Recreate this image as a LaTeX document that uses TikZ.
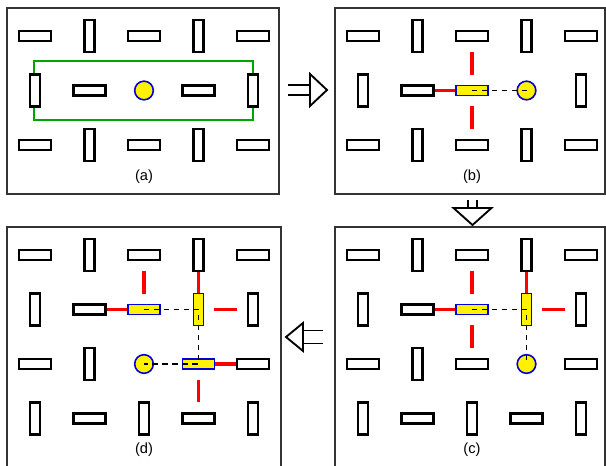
\documentclass[tikz,border=0pt]{standalone}
\usepackage{fontspec}
\setmainfont{Liberation Sans}

\begin{document}
\begin{tikzpicture}[x=0.75pt,y=-0.75pt]
    \tikzset{
        bar/.style={draw, line width=1.6pt, fill=white, inner sep=0pt},
        hbar/.style={bar, minimum width=24pt, minimum height=7.5pt},
        vbar/.style={bar, minimum width=7.5pt, minimum height=24pt},
        ybar/.style={hbar, draw=blue!85!black, fill=yellow, line width=1.2pt},
        yvbar/.style={vbar, draw=blue!85!black, fill=yellow, line width=1.2pt},
        bot/.style={draw=blue!85!black, fill=yellow, shape=circle, line width=1.2pt, minimum size=14pt, inner sep=0pt},
        link/.style={red, line width=2.4pt},
        gaplink/.style={link, shorten <=7.5pt, shorten >=7.5pt},
        trail/.style={black, line width=1.3pt, dash pattern=on 4pt off 3.5pt},
        panel/.style={draw=black!80, line width=0.8pt},
        zone/.style={draw=green!65!black, line width=1.2pt},
        tag/.style={font=\fontsize{11}{13}\selectfont},
        pics/fatarrow/.style args={#1/#2/#3}{code={
            \draw[line width=1.4pt] (0,-#3) -- (#1,-#3) (0,#3) -- (#1,#3);
            \draw[line width=1.4pt, line join=miter] (#1,-#2) -- (#1+17,0) -- (#1,#2) -- cycle;
        }}
    }
    \useasboundingbox (0,0) rectangle (606,466);
    \clip (0,0) rectangle (606,466);

    % frames
    \draw[panel] (7,8) rectangle (279,194);
    \draw[panel] (335,8) rectangle (605,194);
    \draw[panel] (335,227) rectangle (605,480);
    \draw[panel] (7,227) rectangle (281,480);

    % (a)
    \draw[zone] (34,61) rectangle (253,120);
    \foreach \r/\row in {1/{hbar,vbar,hbar,vbar,hbar},2/{vbar,hbar,bot,hbar,vbar},3/{hbar,vbar,hbar,vbar,hbar}}
        \foreach \k [count=\c] in \row
            \node[\k] (a\r\c) at ({54.5*\c-19.5},{54.5*\r-18.5}) {};

    % (b)
    \begin{scope}[shift={(328,0)}]
        \foreach \r/\row in {1/{hbar,vbar,hbar,vbar,hbar},2/{vbar,hbar,ybar,bot,vbar},3/{hbar,vbar,hbar,vbar,hbar}}
            \foreach \k [count=\c] in \row
                \node[\k] (b\r\c) at ({54.5*\c-19.5},{54.5*\r-18.5}) {};
    \end{scope}
    \draw[link] (b22) -- (b23);
    \draw[gaplink] (b13) -- (b23);
    \draw[gaplink] (b23) -- (b33);
    \draw[trail] (b23.center) -- (b24.center);

    % (c)
    \begin{scope}[shift={(328,219)}]
        \foreach \r/\row in {1/{hbar,vbar,hbar,vbar,hbar},2/{vbar,hbar,ybar,yvbar,vbar},3/{hbar,vbar,hbar,bot,hbar},4/{vbar,hbar,vbar,hbar,vbar}}
            \foreach \k [count=\c] in \row
                \node[\k] (c\r\c) at ({54.5*\c-19.5},{54.5*\r-18.5}) {};
    \end{scope}
    \draw[link] (c22) -- (c23);
    \draw[gaplink] (c13) -- (c23);
    \draw[gaplink] (c23) -- (c33);
    \draw[link] (c14) -- (c24);
    \draw[gaplink] (c24) -- (c25);
    \draw[trail] (c23.center) -| (c34.center);

    % (d)
    \begin{scope}[shift={(0,219)}]
        \foreach \r/\row in {1/{hbar,vbar,hbar,vbar,hbar},2/{vbar,hbar,ybar,yvbar,vbar},3/{hbar,vbar,bot,ybar,hbar},4/{vbar,hbar,vbar,hbar,vbar}}
            \foreach \k [count=\c] in \row
                \node[\k] (d\r\c) at ({54.5*\c-19.5},{54.5*\r-18.5}) {};
    \end{scope}
    \draw[link] (d22) -- (d23);
    \draw[gaplink] (d13) -- (d23);
    \draw[link] (d14) -- (d24);
    \draw[gaplink] (d24) -- (d25);
    \draw[link] (d34) -- (d35);
    \draw[gaplink] (d34) -- (d44);
    \draw[trail] (d23.center) -| (d34.center) -- (d33.center);

    % labels
    \node[tag] (la) at (144,177) {(a)};
    \node[tag] (lb) at (472,177) {(b)};
    \node[tag] (lc) at (472,450) {(c)};
    \node[tag] (ld) at (144,450) {(d)};

    % steps
    \pic at (288,90) {fatarrow=22/16/5};
    \pic[rotate=-90] at (472.5,200) {fatarrow=8/19/4.5};
    \pic[rotate=180] at (323,337) {fatarrow=20/14/6.5};
\end{tikzpicture}
\end{document}
